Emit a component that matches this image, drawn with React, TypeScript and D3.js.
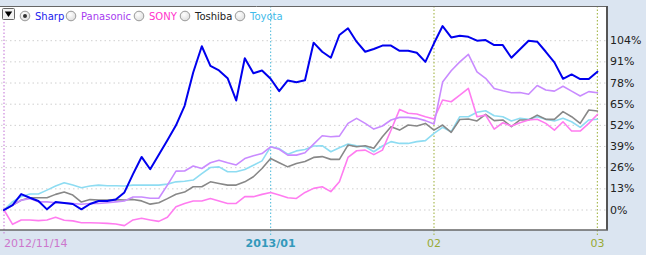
import React from "react";
import * as d3 from "d3";

const dates: string[] = [
  "2012-11-14","2012-11-15","2012-11-16","2012-11-19","2012-11-20","2012-11-21","2012-11-22","2012-11-26","2012-11-27","2012-11-28","2012-11-29","2012-11-30",
  "2012-12-03","2012-12-04","2012-12-05","2012-12-06","2012-12-07","2012-12-10","2012-12-11","2012-12-12","2012-12-13","2012-12-14","2012-12-17","2012-12-18","2012-12-19","2012-12-20","2012-12-21","2012-12-25","2012-12-26","2012-12-27","2012-12-28",
  "2013-01-04","2013-01-07","2013-01-08","2013-01-09","2013-01-10","2013-01-11","2013-01-15","2013-01-16","2013-01-17","2013-01-18","2013-01-21","2013-01-22","2013-01-23","2013-01-24","2013-01-25","2013-01-28","2013-01-29","2013-01-30","2013-01-31",
  "2013-02-01","2013-02-04","2013-02-05","2013-02-06","2013-02-07","2013-02-08","2013-02-12","2013-02-13","2013-02-14","2013-02-15","2013-02-18","2013-02-19","2013-02-20","2013-02-21","2013-02-22","2013-02-25","2013-02-26","2013-02-27","2013-02-28",
  "2013-03-01",
];

const sharp: number[] = [0,3,9.8,7.5,5.5,0.4,4.9,4.3,3.7,0.4,3.7,5.5,5.5,6.5,10.8,22,32.6,25,34,42.8,52,64,84.5,100.6,88.5,85.7,81,67.3,93.2,84,85.7,80.6,73,79.6,78.5,79.7,102.8,97.2,93.5,107.5,111.6,103.4,97.2,98.9,101,101,97.8,97.8,96.6,91,102.4,113,106,107,106.4,104,104.4,101.3,101.3,93.5,98.7,104,103.4,97.2,90.7,80.6,83.3,80.4,80.4,85];
const panasonic: number[] = [0,3,6,7,5,5,4.5,4.5,4,3.5,4,4,4.5,5,5.5,8,8,7.2,7.2,15.3,23.9,24,27,25.5,29,30.6,29,27.7,31.6,33.3,34.7,38.8,37.3,33.7,33.7,35.2,40.5,45.6,45,45.4,53.2,56.3,53.2,49.7,51.6,55.3,56.9,56.9,56.3,54.9,52.8,78.6,85.5,91,95.6,84.8,80.9,74.7,73.2,72,72.2,71.1,76.5,73.7,73,76,73,70,72.7,72];
const sony: number[] = [0,-8.8,-6.1,-6.1,-6.5,-6.1,-4.5,-6.3,-6.7,-7.8,-7.8,-8,-8.2,-8.6,-9.6,-6.1,-5.1,-6.1,-7,-4.5,2,4,5.5,5.5,7.1,5.5,4,4,8.2,8.2,9.6,10.8,9.2,7.5,7.1,10.8,13.3,14.3,11.3,17.4,32.3,36.4,36.8,34,36.8,49,61.8,59.4,59,57.3,55.9,67.6,66.5,70.5,74.7,57.3,58.3,49.7,53.6,51.6,53.6,55.3,55.7,53.2,49.1,54.2,48.5,48.5,53.2,58.7];
const toshiba: number[] = [0,3,6,7.5,7.5,7.5,9.6,11,9.2,4.9,6.4,6.1,6.1,6.4,6.1,6.5,5.6,3.6,4.5,7,9.7,11,14.3,14.3,17.3,16.3,15.3,15.3,17.3,20.4,25.5,31.6,29,26.5,28.6,29.8,32.3,32.8,31.1,31.1,39.9,38.9,39.5,37.9,45,51.2,49.1,52.2,51.6,53.2,49.1,52.2,47.7,55.6,55.9,54.7,58.7,54.9,55.3,51.2,55.3,55.3,58.3,55.7,55.7,60.4,57.3,53.2,61.4,60.8];
const toyota: number[] = [0,5.1,8.2,9.8,9.8,12.2,14.7,16.7,15.3,13.7,14.7,15.3,14.9,14.9,14.7,15.3,15.3,15.3,15.3,15.9,17.3,17.7,18.4,22.4,26.1,26.5,23.5,23.5,24.9,27.5,30.2,38.8,37.7,34.3,36.3,37.2,39.3,39.5,35.8,38.3,40.5,39.5,38.9,35.8,39.3,42,40.9,40.9,42,42.6,47.1,50.8,48.1,57.3,57.3,60,61,57.9,57.3,54.7,56.3,55.7,57.3,55.7,54.7,56.3,54.2,50.8,55.3,55.7];

const seriesNames: string[] = ["Sharp", "Panasonic", "SONY", "Toshiba", "Toyota"];
const yTicks: number[] = [0, 13, 26, 39, 52, 65, 78, 91, 104];
const xTickDates: string[] = ["2012-11-14", "2013-01-04", "2013-02-01", "2013-03-01"];
const xTickLabels: string[] = ["2012/11/14", "2013/01", "02", "03"];

const W = 646, H = 255;
const FONT = "'DejaVu Sans', Verdana, sans-serif";

export default function App() {
  const x = d3.scaleLinear().domain([0, dates.length - 1]).range([4, 597.4]);
  const y = d3.scaleLinear().domain([0, 104]).range([210, 40.7]);
  const line = d3.line<number>().x((_, i) => x(i)).y((v) => y(v));

  const values = [sharp, panasonic, sony, toshiba, toyota];
  const lineColors = ["#0000ee", "#c98bff", "#ff7cf0", "#888888", "#8edcf2"];
  const lineWidths = [2, 1.6, 1.6, 1.6, 1.6];
  const legendColors = ["#1a1aee", "#a63cf0", "#ff33cc", "#222222", "#3fbbea"];
  const legendX = [25, 71, 139, 185, 240];
  const drawOrder = [4, 3, 2, 1, 0];

  const tickColors = ["#cc77cc", "#3399bb", "#99aa33", "#99aa33"];
  const tickLineColors = ["#cc88dd", "#66c4e0", "#aabb55", "#aabb55"];
  const tickWeights = ["normal", "bold", "normal", "normal"];

  const plotL = 0, plotR = 607, plotT = 6, plotB = 230;

  return (
    <svg width={W} height={H} style={{ position: "fixed", left: 0, top: 0, display: "block" }}>
      <defs>
        <radialGradient id="rg" cx="40%" cy="35%" r="70%">
          <stop offset="0%" stopColor="#ffffff" />
          <stop offset="100%" stopColor="#dcdcdc" />
        </radialGradient>
      </defs>
      <rect x={0} y={0} width={W} height={H} fill="#dbe5f1" />
      <rect x={plotL} y={plotT} width={plotR - plotL} height={plotB - plotT} fill="#ffffff" />
      {yTicks.map((t) => (
        <line key={t} x1={plotL + 1} x2={plotR} y1={y(t)} y2={y(t)} stroke="#cfcfcf" strokeWidth={1} strokeDasharray="1.5,3" />
      ))}
      {xTickDates.map((d, k) => {
        const xi = x(dates.indexOf(d));
        return (
          <g key={d}>
            <line x1={xi} x2={xi} y1={k === 0 ? 22 : plotT} y2={plotB + 5} stroke={tickLineColors[k]} strokeWidth={1.2} strokeDasharray="1.5,2" />
            <text x={k === 0 ? 4 : xi} y={243} textAnchor={k === 0 ? "start" : "middle"} dominantBaseline="central"
              fontFamily={FONT} fontSize={11} fontWeight={tickWeights[k] as any} fill={tickColors[k]}>{xTickLabels[k]}</text>
          </g>
        );
      })}
      <g>
        {drawOrder.map((s) => (
          <path key={s} d={line(values[s]) || ""} fill="none" stroke={lineColors[s]} strokeWidth={lineWidths[s]} strokeLinejoin="round" strokeLinecap="round" />
        ))}
      </g>
      <line x1={plotL} x2={plotR} y1={plotT + 0.5} y2={plotT + 0.5} stroke="#666" strokeWidth={1} />
      <line x1={plotR} x2={plotR} y1={plotT} y2={plotB} stroke="#555" strokeWidth={2} />
      <line x1={plotL} x2={plotR + 1} y1={plotB} y2={plotB} stroke="#666" strokeWidth={1.5} />
      {yTicks.map((t) => (
        <text key={t} x={610} y={y(t)} dominantBaseline="central" fontFamily={FONT} fontSize={11} fill="#222">{t}%</text>
      ))}
      {/* dropdown */}
      <rect x={2.5} y={8.5} width={12} height={11} fill="#f2f2f2" stroke="#666" strokeWidth={1} rx={1} />
      <path d="M4.8,11.5 L12.2,11.5 L8.5,17 Z" fill="#000" />
      {seriesNames.map((n, k) => (
        <g key={n}>
          <circle cx={legendX[k]} cy={16} r={4.8} fill="url(#rg)" stroke="#9a9a9a" strokeWidth={1} />
          {k === 0 && <circle cx={legendX[k]} cy={16} r={2} fill="#333" />}
          <text x={legendX[k] + 10} y={16} dominantBaseline="central" fontFamily={FONT} fontSize={10} fill={legendColors[k]}>{n}</text>
        </g>
      ))}
    </svg>
  );
}
